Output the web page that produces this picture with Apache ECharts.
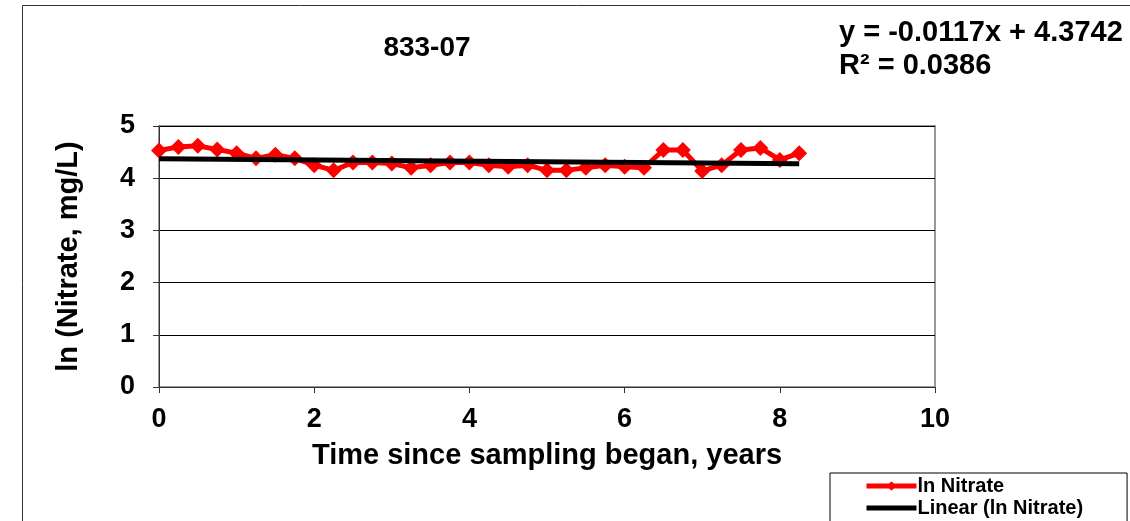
<!DOCTYPE html>
<html>
<head>
<meta charset="utf-8">
<script src="https://cdn.jsdelivr.net/npm/echarts@6/dist/echarts.min.js"></script>
<style>
  html, body { margin: 0; padding: 0; background: #fff; overflow: hidden; }
  #chart { width: 1130px; height: 560px; }
</style>
</head>
<body>
<div id="chart"></div>
<script>
// sampling times, years
var years = [0, 0.25, 0.5, 0.75, 1, 1.25, 1.5, 1.75, 2, 2.25, 2.5, 2.75, 3, 3.25, 3.5, 3.75, 4,
  4.25, 4.5, 4.75, 5, 5.25, 5.5, 5.75, 6, 6.25, 6.5, 6.75, 7, 7.25, 7.5, 7.75, 8, 8.25]
// ln nitrate values
var lnNitrate = [4.53, 4.60, 4.62, 4.55, 4.48, 4.38, 4.45, 4.38, 4.25, 4.15, 4.30, 4.30, 4.28, 4.20,
  4.25, 4.30, 4.30, 4.25, 4.22, 4.25, 4.15, 4.15, 4.20, 4.25, 4.22, 4.20, 4.54, 4.54, 4.14, 4.25,
  4.54, 4.58, 4.35, 4.48]
// trend from the equation shown on the chart
var slope = -0.0117
var intercept = 4.3742
var xTicks = [0, 2, 4, 6, 8, 10]
var yTicks = [0, 1, 2, 3, 4, 5]

var FONT = '"Liberation Sans", Arial, sans-serif'

var points = years.map(function(x, i) { return [x, lnNitrate[i]] })
var xEnd = years[years.length - 1]
var trend = [[0, intercept], [xEnd, intercept + slope * xEnd]]

// the picture is cut at 521px, the chart itself runs a bit lower
var chart = echarts.init(document.getElementById('chart'))
chart.setOption({
  animation: false,
  backgroundColor: '#fff',
  textStyle: { fontFamily: FONT },
  title: [{
    text: '833-07',
    left: 422,
    top: 29,
    textAlign: 'center',
    textStyle: { fontSize: 28, fontWeight: 'bold', color: '#000', fontFamily: FONT }
  }, {
    text: 'y = -0.0117x + 4.3742\nR² = 0.0386',
    left: 834,
    top: 11,
    textStyle: { fontSize: 29, fontWeight: 'bold', color: '#000', lineHeight: 33, fontFamily: FONT }
  }],
  graphic: [{
    type: 'rect',
    shape: { x: 22.5, y: 5.5, width: 1130, height: 560 },
    style: { fill: 'none', stroke: '#333', lineWidth: 1 },
    silent: true,
    z: -1
  }],
  grid: {
    left: 159,
    width: 776,
    top: 126,
    height: 261,
    show: true,
    borderColor: '#999',
    borderWidth: 2
  },
  legend: {
    orient: 'vertical',
    left: 830,
    top: 473,
    itemWidth: 50,
    itemHeight: 12,
    itemGap: 2,
    padding: [3, 44, 6, 34],
    borderColor: '#000',
    borderWidth: 1,
    backgroundColor: '#fff',
    textStyle: { fontSize: 20, fontWeight: 'bold', color: '#000', fontFamily: FONT, padding: [0, 0, 0, -4] },
    data: [
      { name: 'ln Nitrate', lineStyle: { width: 5 } },
      { name: 'Linear (ln Nitrate)', lineStyle: { width: 5 }, itemStyle: { opacity: 0 } }
    ]
  },
  xAxis: {
    type: 'value',
    min: 0,
    max: 10,
    interval: 2,
    name: 'Time since sampling began, years',
    nameLocation: 'middle',
    nameGap: 54,
    nameTextStyle: { fontSize: 29, fontWeight: 'bold', color: '#000', fontFamily: FONT },
    axisLine: { show: true, lineStyle: { color: '#333', width: 1 } },
    axisTick: { show: true, length: 6, inside: false, lineStyle: { color: '#333' } },
    axisLabel: {
      fontSize: 27, fontWeight: 'bold', color: '#000', margin: 19, fontFamily: FONT,
      formatter: function(v) { return xTicks.indexOf(v) >= 0 ? String(v) : '' }
    },
    splitLine: { show: false }
  },
  yAxis: {
    type: 'value',
    min: 0,
    max: 5,
    interval: 1,
    name: 'ln (Nitrate, mg/L)',
    nameLocation: 'middle',
    nameGap: 76,
    nameTextStyle: { fontSize: 29, fontWeight: 'bold', color: '#000', fontFamily: FONT },
    axisLine: { show: true, lineStyle: { color: '#333', width: 1 } },
    axisTick: { show: true, length: 6, inside: false, lineStyle: { color: '#333' } },
    axisLabel: {
      fontSize: 27, fontWeight: 'bold', color: '#000', margin: 24, fontFamily: FONT,
      formatter: function(v) { return yTicks.indexOf(v) >= 0 ? String(v) : '' }
    },
    splitLine: { show: true, lineStyle: { color: '#000', width: 1 } }
  },
  series: [{
    name: 'ln Nitrate',
    type: 'line',
    data: points,
    symbol: 'diamond',
    symbolSize: 16,
    lineStyle: { color: '#ff0000', width: 5 },
    itemStyle: { color: '#ff0000' },
    z: 2
  }, {
    name: 'Linear (ln Nitrate)',
    type: 'line',
    data: trend,
    symbol: 'none',
    lineStyle: { color: '#000', width: 5 },
    itemStyle: { color: '#000' },
    z: 3
  }]
})
</script>
</body>
</html>
